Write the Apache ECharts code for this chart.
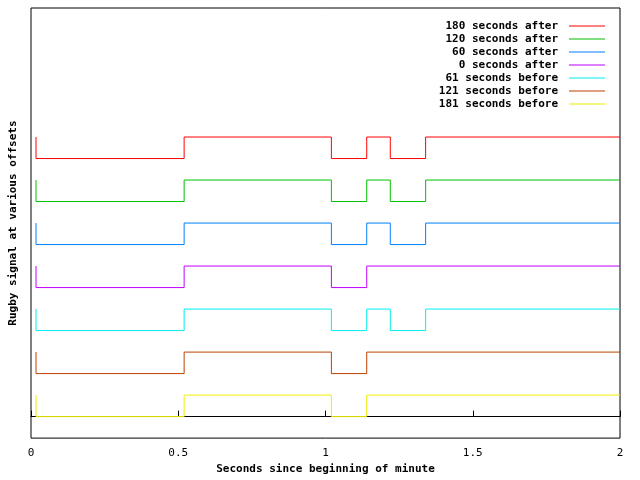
<!DOCTYPE html>
<html><head><meta charset="utf-8">
<script src="https://cdn.jsdelivr.net/npm/echarts@6/dist/echarts.min.js"></script>
<style>html,body{margin:0;background:#fff}#c{width:640px;height:480px}</style>
</head><body><div id="c"></div>
<script>
var names = ['180 seconds after','120 seconds after','60 seconds after','0 seconds after','61 seconds before','121 seconds before','181 seconds before'];
var colors = ['#ff0000','#00c000','#0080ff','#c000ff','#00eeee','#c04000','#eeee00'];
var offsets = [12, 10, 8, 6, 4, 2, 0];
// edge times (s) for each trace; level starts high, drops at first edge, then alternates
var edgesA = [0.017, 0.017, 0.52, 1.02, 1.14, 1.22, 1.34];
var edgesB = [0.017, 0.017, 0.52, 1.02, 1.14];
var edges = [edgesA, edgesA, edgesA, edgesB, edgesA, edgesB, edgesB];
var xTicks = [0, 0.5, 1, 1.5, 2];

function trace(e, off) {
  var pts = [], lvl = 1;
  pts.push([e[0], off + lvl]);
  for (var i = 1; i < e.length; i++) {
    pts.push([e[i], off + lvl]);
    lvl = 1 - lvl;
    pts.push([e[i], off + lvl]);
  }
  pts.push([2, off + lvl]);
  return pts;
}

var font = 'DejaVu Sans Mono';
var chart = echarts.init(document.getElementById('c'));
chart.setOption({
  animation: false,
  textStyle: {fontFamily: font},
  grid: {left: 27, right: 20, top: 8, bottom: 40, show: true, borderColor: '#000', borderWidth: 1, containLabel: false},
  legend: {
    orient: 'vertical', right: 30, top: 15, align: 'right', itemGap: 1,
    itemWidth: 36, itemHeight: 1, icon: 'rect',
    textStyle: {fontFamily: font, fontSize: 11, color: '#000', fontWeight: 'bold', lineHeight: 12, padding: [0, 6, 0, 0]},
    data: names
  },
  xAxis: {
    type: 'value', min: 0, max: 2, interval: 0.5,
    name: 'Seconds since beginning of minute', nameLocation: 'middle', nameGap: 22,
    nameTextStyle: {fontFamily: font, fontSize: 11, fontWeight: 'bold', color: '#000'},
    axisLine: {show: true, lineStyle: {color: '#000'}}, splitLine: {show: false},
    axisTick: {inside: true, length: 6, lineStyle: {color: '#000'}},
    axisLabel: {fontFamily: font, fontSize: 11, color: '#000', margin: 10,
      formatter: function (v) { return xTicks.indexOf(v) >= 0 ? String(v) : ''; }}
  },
  yAxis: {
    type: 'value', min: -1, max: 19,
    name: 'Rugby signal at various offsets', nameLocation: 'middle', nameGap: 12,
    nameTextStyle: {fontFamily: font, fontSize: 11, fontWeight: 'bold', color: '#000'},
    axisLine: {show: false}, axisTick: {show: false}, axisLabel: {show: false}, splitLine: {show: false}
  },
  series: names.map(function (n, i) {
    return {name: n, type: 'line', showSymbol: false,
      itemStyle: {color: colors[i]},
      lineStyle: {width: 1, color: colors[i]}, data: trace(edges[i], offsets[i])};
  })
});
</script></body></html>
